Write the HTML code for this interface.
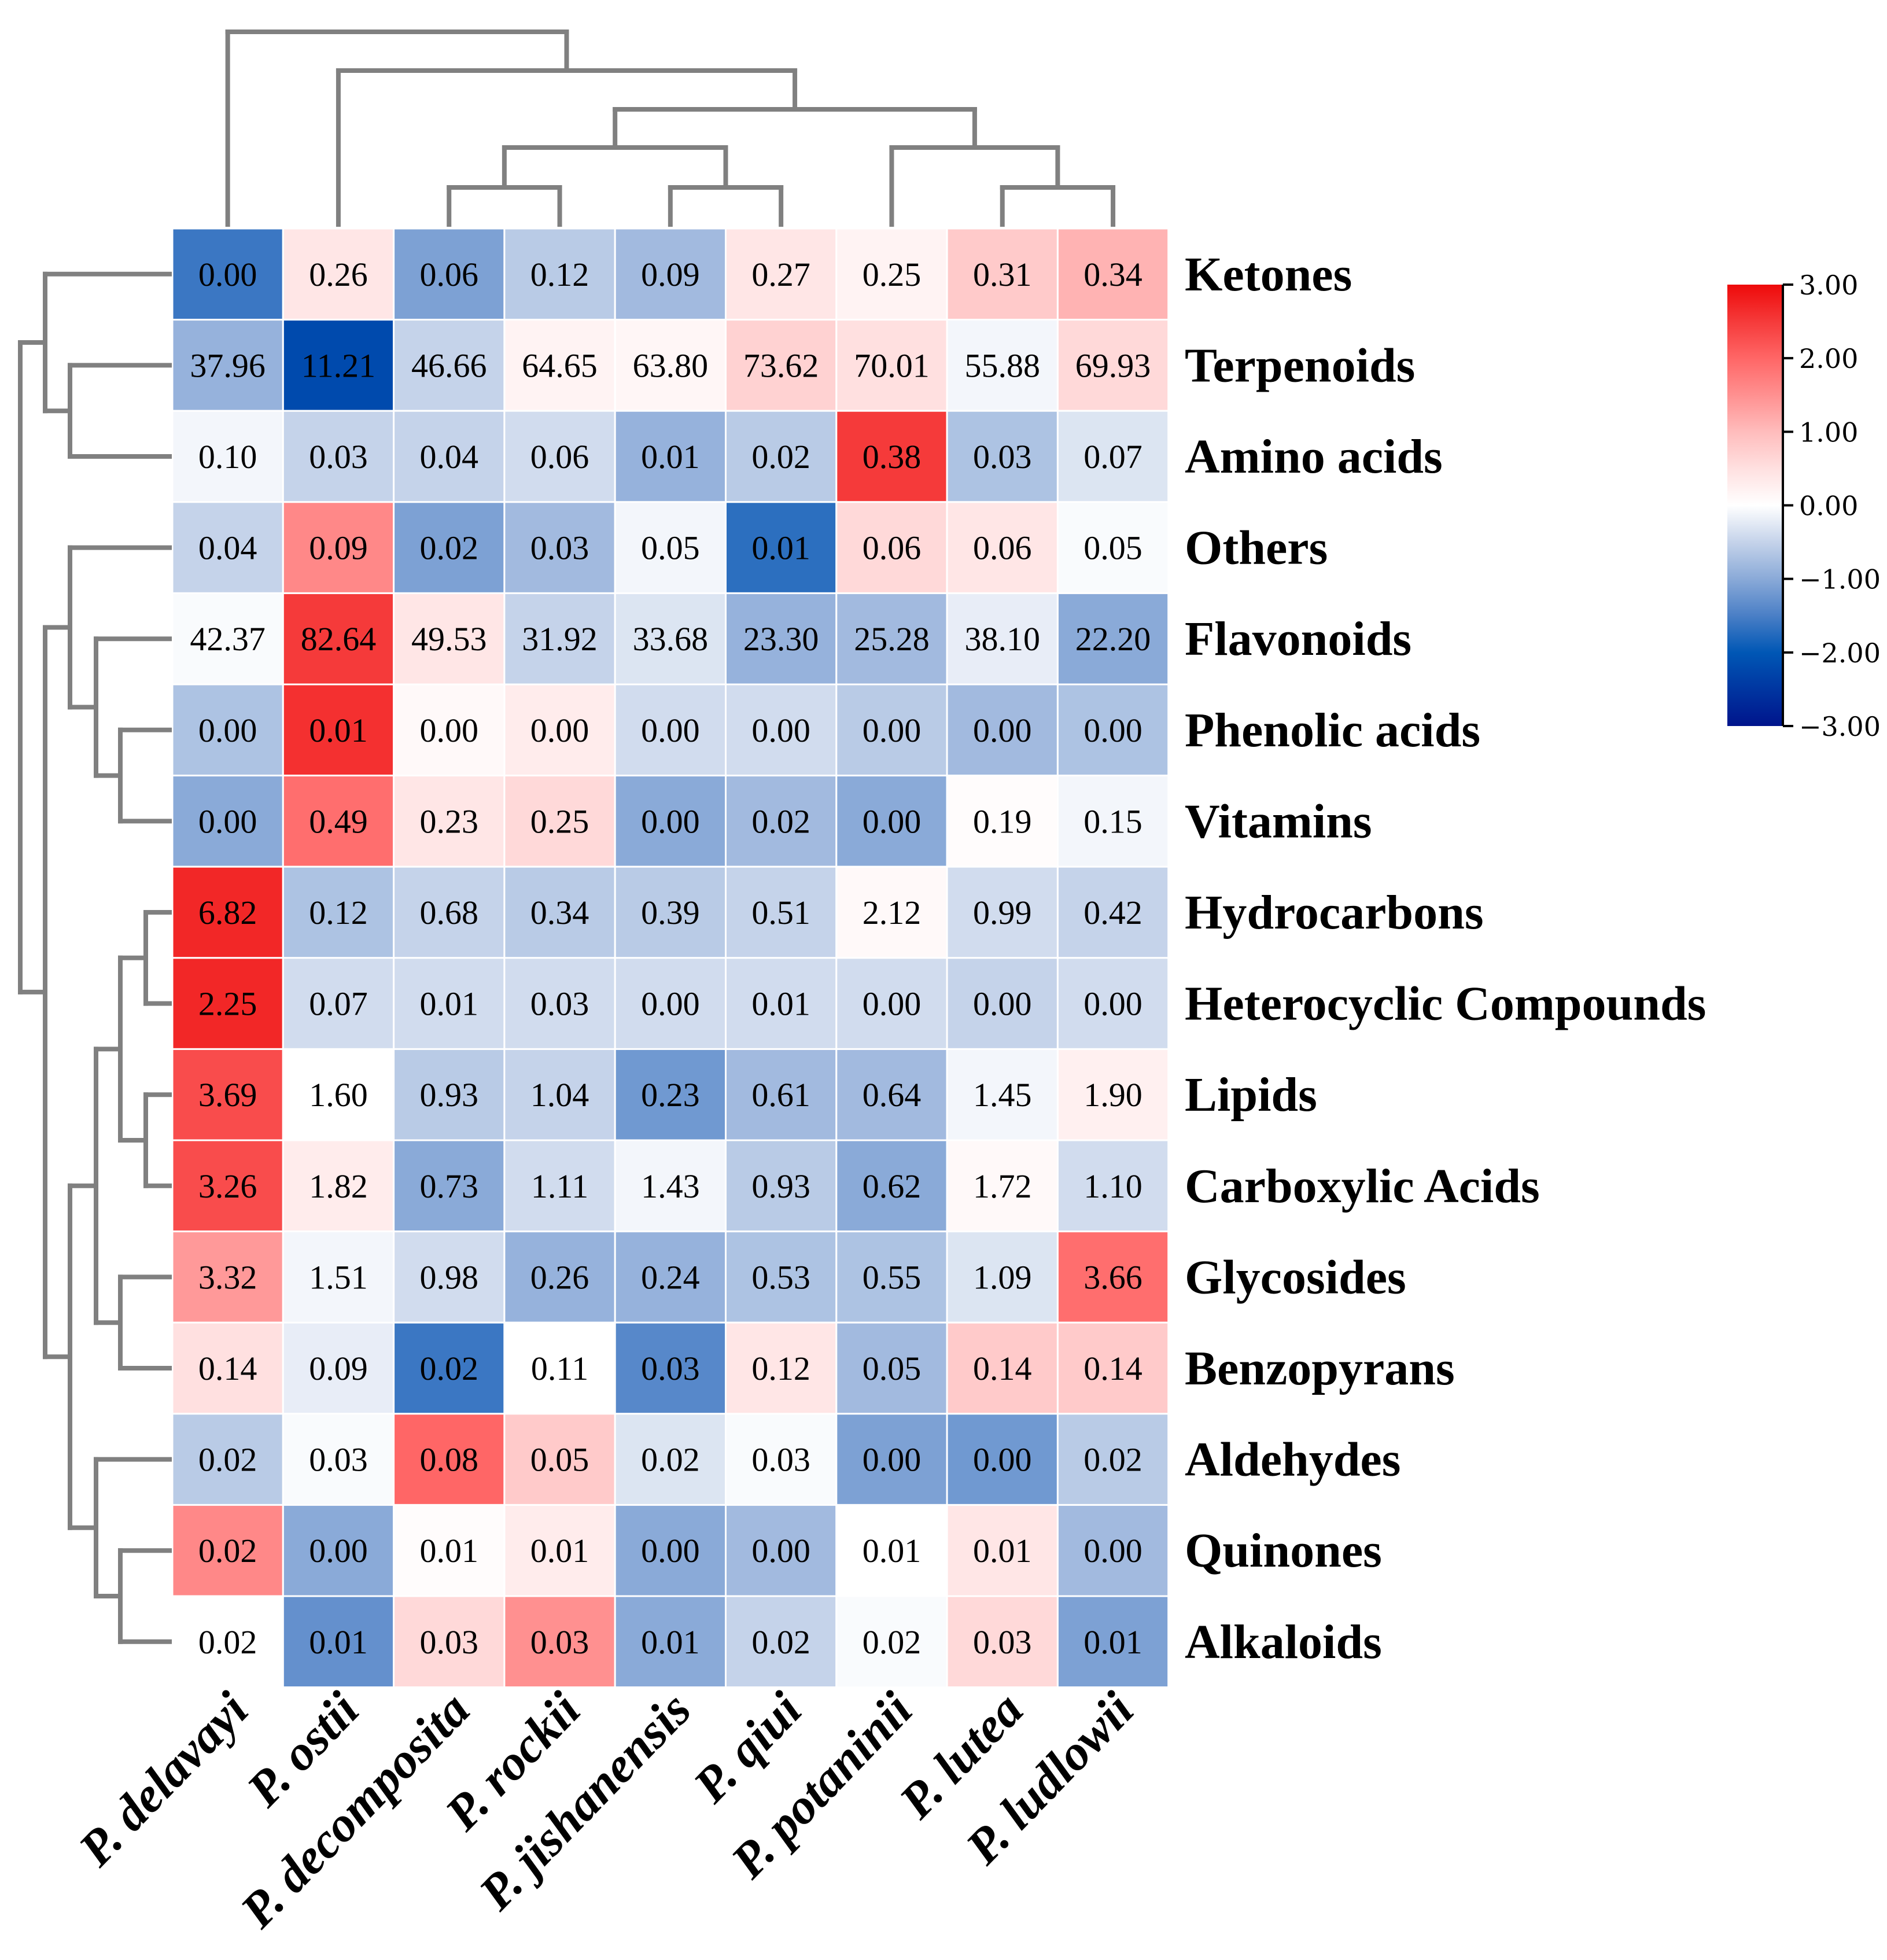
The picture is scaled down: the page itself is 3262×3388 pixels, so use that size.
<!DOCTYPE html>
<html><head><meta charset="utf-8"><style>
html,body{margin:0;padding:0;background:#fff;}
svg{display:block;}
</style></head><body>
<svg id="chart" width="3262" height="3388" xmlns="http://www.w3.org/2000/svg">
<rect width="3262" height="3388" fill="#fff"/>
<defs><linearGradient id="cbg" x1="0" y1="1" x2="0" y2="0">
<stop offset="0" stop-color="#00148c"/><stop offset="0.1667" stop-color="#0057b5"/><stop offset="0.25" stop-color="#4a7fc6"/><stop offset="0.3333" stop-color="#8aaad8"/><stop offset="0.4167" stop-color="#c5d3ea"/><stop offset="0.5" stop-color="#ffffff"/><stop offset="0.5833" stop-color="#ffe0e0"/><stop offset="0.6667" stop-color="#ffbcbc"/><stop offset="0.75" stop-color="#ff9090"/><stop offset="0.8333" stop-color="#ff6666"/><stop offset="0.9167" stop-color="#f53a3a"/><stop offset="1" stop-color="#ee0a0a"/>
</linearGradient></defs>
<g id="cells"></g><g id="dendro"></g><g id="labels"></g><g id="cbar"></g>
</svg>
<script>
const columns=["P. delavayi","P. ostii","P. decomposita","P. rockii","P. jishanensis","P. qiui","P. potaninii","P. lutea","P. ludlowii"];
const rows=["Ketones","Terpenoids","Amino acids","Others","Flavonoids","Phenolic acids","Vitamins","Hydrocarbons","Heterocyclic Compounds","Lipids","Carboxylic Acids","Glycosides","Benzopyrans","Aldehydes","Quinones","Alkaloids"];
const values=[
["0.00","0.26","0.06","0.12","0.09","0.27","0.25","0.31","0.34"],
["37.96","11.21","46.66","64.65","63.80","73.62","70.01","55.88","69.93"],
["0.10","0.03","0.04","0.06","0.01","0.02","0.38","0.03","0.07"],
["0.04","0.09","0.02","0.03","0.05","0.01","0.06","0.06","0.05"],
["42.37","82.64","49.53","31.92","33.68","23.30","25.28","38.10","22.20"],
["0.00","0.01","0.00","0.00","0.00","0.00","0.00","0.00","0.00"],
["0.00","0.49","0.23","0.25","0.00","0.02","0.00","0.19","0.15"],
["6.82","0.12","0.68","0.34","0.39","0.51","2.12","0.99","0.42"],
["2.25","0.07","0.01","0.03","0.00","0.01","0.00","0.00","0.00"],
["3.69","1.60","0.93","1.04","0.23","0.61","0.64","1.45","1.90"],
["3.26","1.82","0.73","1.11","1.43","0.93","0.62","1.72","1.10"],
["3.32","1.51","0.98","0.26","0.24","0.53","0.55","1.09","3.66"],
["0.14","0.09","0.02","0.11","0.03","0.12","0.05","0.14","0.14"],
["0.02","0.03","0.08","0.05","0.02","0.03","0.00","0.00","0.02"],
["0.02","0.00","0.01","0.01","0.00","0.00","0.01","0.01","0.00"],
["0.02","0.01","0.03","0.03","0.01","0.02","0.02","0.03","0.01"]];
const zscores=[
[-1.6,0.4,-1.1,-0.6,-0.8,0.4,0.2,0.8,1.1],
[-0.9,-2.2,-0.5,0.2,0.15,0.7,0.5,-0.1,0.6],
[-0.1,-0.5,-0.5,-0.4,-0.9,-0.6,2.5,-0.7,-0.3],
[-0.5,1.6,-1.1,-0.8,-0.1,-1.7,0.6,0.4,-0.05],
[-0.05,2.5,0.4,-0.5,-0.3,-0.9,-0.8,-0.2,-1.0],
[-0.7,2.6,0.1,0.3,-0.4,-0.4,-0.6,-0.8,-0.7],
[-1.0,1.9,0.4,0.6,-1.0,-0.8,-1.0,0.05,-0.1],
[2.7,-0.7,-0.5,-0.6,-0.6,-0.5,0.1,-0.4,-0.5],
[2.7,-0.4,-0.4,-0.4,-0.4,-0.4,-0.4,-0.5,-0.4],
[2.3,0.0,-0.6,-0.5,-1.2,-0.8,-0.8,-0.1,0.25],
[2.3,0.3,-1.0,-0.4,-0.1,-0.6,-1.0,0.1,-0.4],
[1.4,-0.1,-0.4,-0.9,-0.9,-0.7,-0.7,-0.3,1.9],
[0.5,-0.2,-1.6,0.0,-1.4,0.4,-0.8,0.8,0.8],
[-0.6,-0.05,2.0,0.8,-0.3,-0.05,-1.1,-1.2,-0.6],
[1.6,-1.0,0.05,0.3,-1.0,-0.8,0.0,0.4,-0.8],
[0.0,-1.3,0.6,1.5,-1.0,-0.5,-0.05,0.6,-1.1]];
const cbTicks=[3,2,1,0,-1,-2,-3];
const cbTickLabels=["3.00","2.00","1.00","0.00","\u22121.00","\u22122.00","\u22123.00"];
const colLinks=[[2,3,4],[4,5,4],[9,10,3],[7,8,4],[6,12,3],[11,13,2],[1,14,1],[0,15,0]];
const rowLinks=[[1,2,2],[0,16,1],[5,6,4],[4,18,3],[3,19,2],[7,8,5],[9,10,5],[21,22,4],[11,12,4],[23,24,3],[14,15,4],[13,26,3],[25,27,2],[20,28,1],[17,29,0]];
const colLevels=[55,122,189,255,324];
const rowLevels=[35,78,121,166,208,252];

const NS="http://www.w3.org/2000/svg";
const X0=298,Y0=395,CW=191.3,RH=157.6;
const xc=i=>X0+CW*(i+0.5), yc=j=>Y0+RH*(j+0.5);
const stops=[[-3,[0,20,140]],[-2,[0,87,181]],[-1.5,[74,127,198]],[-1,[138,170,216]],[-0.5,[197,211,234]],[0,[255,255,255]],[0.5,[255,224,224]],[1,[255,188,188]],[1.5,[255,144,144]],[2,[255,102,102]],[2.5,[245,58,58]],[3,[238,10,10]]];
function color(v){v=Math.max(-3,Math.min(3,v));for(let k=0;k<stops.length-1;k++){const a=stops[k],b=stops[k+1];if(v<=b[0]){const t=(v-a[0])/(b[0]-a[0]);return 'rgb('+a[1].map((c,i)=>Math.round(c+(b[1][i]-c)*t)).join(',')+')';}}return 'rgb(238,10,10)';}
function mk(tag,attrs,parent){const e=document.createElementNS(NS,tag);for(const k in attrs)e.setAttribute(k,attrs[k]);parent.appendChild(e);return e;}
const cells=document.getElementById('cells');
rows.forEach((r,j)=>columns.forEach((c,i)=>{
 const rc=mk('rect',{x:X0+CW*i,y:Y0+RH*j,width:CW,height:RH,fill:color(zscores[j][i]),stroke:'#fff','stroke-width':3},cells);
 
 
 const t=mk('text',{x:xc(i),y:yc(j)+20,'text-anchor':'middle','font-family':'"Liberation Serif",serif','font-size':58,fill:'#000'},cells);
 
 
 t.textContent=values[j][i];
}));
const dg=document.getElementById('dendro');
const ls={stroke:'#808080','stroke-width':8,fill:'none','stroke-linecap':'square'};
function line(x1,y1,x2,y2,name){const l=mk('line',Object.assign({x1,y1,x2,y2},ls),dg);}
(function(){const pos=columns.map((c,i)=>xc(i));const h=columns.map(()=>388);
 colLinks.forEach(([a,b,lv])=>{const y=colLevels[lv];line(pos[a],h[a],pos[a],y,'column-dendrogram-branch');line(pos[b],h[b],pos[b],y,'column-dendrogram-branch');line(pos[a],y,pos[b],y,'column-dendrogram-link');pos.push((pos[a]+pos[b])/2);h.push(y);});})();
(function(){const pos=rows.map((r,j)=>yc(j));const h=rows.map(()=>293);
 rowLinks.forEach(([a,b,lv])=>{const x=rowLevels[lv];line(h[a],pos[a],x,pos[a],'row-dendrogram-branch');line(h[b],pos[b],x,pos[b],'row-dendrogram-branch');line(x,pos[a],x,pos[b],'row-dendrogram-link');pos.push((pos[a]+pos[b])/2);h.push(x);});})();
const lg=document.getElementById('labels');
rows.forEach((r,j)=>{const t=mk('text',{x:2048,y:yc(j)+28,'font-family':'"Liberation Serif",serif','font-weight':'bold','font-size':84,fill:'#000'},lg);
 
 
 t.textContent=r;});
columns.forEach((c,i)=>{const x=xc(i)+40,y=2960;const t=mk('text',{x:x,y:y,'text-anchor':'end',transform:'rotate(-46 '+x+' '+y+')','font-family':'"Liberation Serif",serif','font-weight':'bold','font-style':'italic','font-size':86,fill:'#000'},lg);
 
 
 t.textContent=c;});
const cb=document.getElementById('cbar');
const CB0=492,CB1=1255,cy=v=>CB0+(3-v)*(CB1-CB0)/6;
const bar=mk('rect',{x:2986,y:CB0,width:96,height:CB1-CB0,fill:'url(#cbg)'},cb);


const ax=mk('line',{x1:3082,y1:CB0,x2:3082,y2:CB1,stroke:'#000','stroke-width':4},cb);


cbTicks.forEach((v,k)=>{const tk=mk('line',{x1:3082,y1:cy(v),x2:3100,y2:cy(v),stroke:'#000','stroke-width':4},cb);
 
 
 const t=mk('text',{x:3110,y:cy(v)+17,'font-family':'"DejaVu Serif",serif','font-size':46,fill:'#000'},cb);
 
 
 t.textContent=cbTickLabels[k];});
</script>
</body></html>
